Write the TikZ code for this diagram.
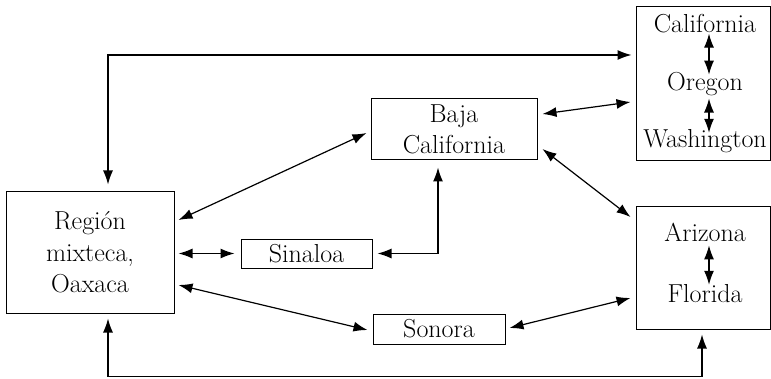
\documentclass[tikz,border=0pt]{standalone}
\usetikzlibrary{arrows.meta,positioning}

\tikzset{
  place/.style={draw, line width=1pt, inner sep=0pt, align=center,
    font=\fontsize{26}{31.5}\selectfont},
  label/.style={inner sep=0pt, anchor=base, font=\fontsize{26}{31.5}\selectfont},
  link/.style={line width=1.2pt, {Latex[length=14pt,width=10pt]}-{Latex[length=14pt,width=10pt]}}
}

\begin{document}
\begin{tikzpicture}[x=1pt,y=1pt]
    \useasboundingbox (0,0) rectangle (771,378);

    % boxes
    \node[place, minimum width=168pt, minimum height=121pt] (oaxaca) at (90,125.5) {Región\\mixteca,\\Oaxaca};
    \node[place, minimum width=166pt, minimum height=61pt] (baja) at (454,248.5) {Baja\\California};
    \node[place, minimum width=131pt, minimum height=29pt] (sinaloa) at (306.5,124.5) {Sinaloa};
    \node[place, minimum width=132pt, minimum height=30pt] (sonora) at (439,49) {Sonora};
    \node[place, minimum width=134pt, minimum height=154pt] (oeste) at (703,294) {};
    \node[place, minimum width=134pt, minimum height=122pt] (sur) at (703,110) {};

    % states inside the right boxes
    \node[label] (cal) at (705,345) {California};
    \node[label] (ore) at (705,287) {Oregon};
    \node[label] (wash) at (705,230) {Washington};
    \node[label] (ari) at (705,137) {Arizona};
    \node[label] (flo) at (705,76) {Florida};

    \draw[link] ([xshift=4pt]cal.south) -- ([shift={(4pt,-2pt)}]ore.north);
    \draw[link] ([shift={(4pt,-2pt)}]ore.south) -- ([shift={(4pt,-3pt)}]wash.north);
    \draw[link] ([shift={(4pt,-4pt)}]ari.south) -- ([shift={(4pt,-1pt)}]flo.north);

    % connections
    \draw[link] ([shift={(18pt,7pt)}]oaxaca.north) |- ([shift={(-4pt,29pt)}]oeste.west);
    \draw[link] ([shift={(4pt,32.5pt)}]oaxaca.east) -- ([shift={(-4pt,-3.5pt)}]baja.west);
    \draw[link] ([xshift=4pt]oaxaca.east |- sinaloa.west) -- ([xshift=-6pt]sinaloa.west);
    \draw[link] ([xshift=5pt]sinaloa.east) -| ([shift={(-16pt,-7pt)}]baja.south);
    \draw[link] ([shift={(4pt,-32.5pt)}]oaxaca.east) -- ([shift={(-5pt,-1pt)}]sonora.west);
    \draw[link] ([shift={(4pt,1pt)}]sonora.east) -- ([shift={(-5pt,-30pt)}]sur.west);
    \draw[link] ([shift={(5pt,15.5pt)}]baja.east) -- ([shift={(-5pt,-18pt)}]oeste.west);
    \draw[link] ([shift={(5pt,-19.5pt)}]baja.east) -- ([shift={(-5pt,51pt)}]sur.west);
    \draw[link] ([shift={(18pt,-5pt)}]oaxaca.south) -- ++(0,-58) -| ([shift={(-1pt,-5pt)}]sur.south);
\end{tikzpicture}
\end{document}
